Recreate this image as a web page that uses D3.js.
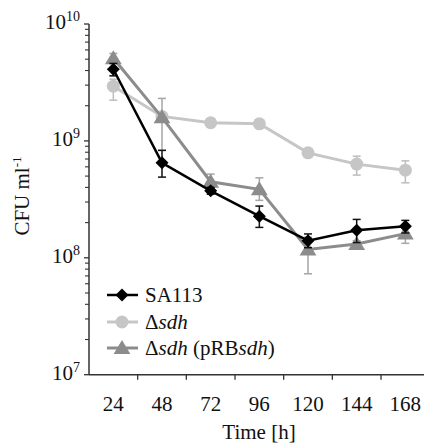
<!DOCTYPE html>
<html>
<head>
<meta charset="utf-8">
<script src="https://cdn.jsdelivr.net/npm/d3@7"></script>
<style>
  body { margin: 0; background: #fff; }
  text { font-family: "Liberation Serif", "Times New Roman", serif; fill: #111; }
</style>
</head>
<body>
<svg id="chart" width="424" height="445"></svg>
<script>
// time points (h)
const times = ['24', '48', '72', '96', '120', '144', '168'];

// SA113 (wild type)
const sa113 = [4.1e9, 6.5e8, 3.74e8, 2.27e8, 1.40e8, 1.72e8, 1.86e8];
const sa113Hi = [4.6e9, 8.3e8, 4.0e8, 2.77e8, 1.6e8, 2.13e8, 2.09e8];
const sa113Lo = [3.6e9, 4.9e8, 3.5e8, 1.82e8, 1.22e8, 1.35e8, 1.63e8];

// delta sdh
const sdh = [2.94e9, 1.62e9, 1.43e9, 1.40e9, 7.9e8, 6.33e8, 5.62e8];
const sdhHi = [3.37e9, 1.75e9, 1.5e9, 1.46e9, 8.2e8, 7.4e8, 6.75e8];
const sdhLo = [2.23e9, 1.5e9, 1.37e9, 1.34e9, 7.6e8, 5.1e8, 4.38e8];

// delta sdh (pRBsdh)
const comp = [5.1e9, 1.59e9, 4.47e8, 3.85e8, 1.18e8, 1.31e8, 1.61e8];
const compHi = [5.6e9, 2.31e9, 5.2e8, 4.83e8, 1.5e8, 1.4e8, 1.9e8];
const compLo = [4.6e9, 8.3e8, 3.9e8, 3.1e8, 7.3e7, 1.22e8, 1.33e8];

const yTicks = [1e7, 1e8, 1e9, 1e10];

const svg = d3.select('#chart');
const mLeft = 89, mTop = 24, mBottom = 374.7, bandW = 48.67;

const x = d3.scaleBand().domain(times).range([mLeft, mLeft + bandW * times.length]);
const y = d3.scaleLog().domain([1e7, 1e10]).range([mBottom, mTop]);
const cx = d => x(d) + x.bandwidth() / 2;

// symbols
const diamond = r => `M0,${-r}L${r},0L0,${r}L${-r},0Z`;
const triangle = r => `M0,${-r}L${r * 1.05},${r * 0.75}L${-r * 1.05},${r * 0.75}Z`;

const series = [
  { name: 'sdh', values: sdh, hi: sdhHi, lo: sdhLo, color: '#c6c6c6', err: '#bdbdbd', lw: 3,
    mark: g => g.append('circle').attr('r', 6.5) },
  { name: 'comp', values: comp, hi: compHi, lo: compLo, color: '#8c8c8c', err: '#a6a6a6', lw: 3,
    mark: g => g.append('path').attr('d', triangle(8)) },
  { name: 'sa113', values: sa113, hi: sa113Hi, lo: sa113Lo, color: '#000', err: '#111', lw: 2.5,
    mark: g => g.append('path').attr('d', diamond(6.5)) }
];

// axes lines
const axisColor = '#333';
svg.append('line').attr('x1', mLeft).attr('x2', 424).attr('y1', mBottom).attr('y2', mBottom)
  .attr('stroke', axisColor).attr('stroke-width', 1.5);
svg.append('line').attr('x1', mLeft).attr('x2', mLeft).attr('y1', mTop).attr('y2', mBottom)
  .attr('stroke', axisColor).attr('stroke-width', 1.5);

// x ticks at band boundaries
times.forEach((t, i) => {
  if (i > 0) {
    svg.append('line').attr('x1', x(t)).attr('x2', x(t)).attr('y1', mBottom).attr('y2', mBottom + 5)
      .attr('stroke', axisColor).attr('stroke-width', 1.3);
  }
  svg.append('text').attr('x', cx(t)).attr('y', 411).attr('text-anchor', 'middle')
    .attr('font-size', 21).text(t);
});

// y ticks, major + minor
yTicks.forEach((v, i) => {
  svg.append('line').attr('x1', mLeft - 5).attr('x2', mLeft).attr('y1', y(v)).attr('y2', y(v))
    .attr('stroke', axisColor).attr('stroke-width', 1.3);
  const exp = Math.round(Math.log10(v));
  const t = svg.append('text').attr('x', 80).attr('y', y(v) + 5).attr('text-anchor', 'end')
    .attr('font-size', 21);
  t.append('tspan').text('10');
  t.append('tspan').attr('font-size', 14).attr('dy', -8).text(exp);
  if (i < yTicks.length - 1) {
    for (let k = 2; k <= 9; k++) {
      svg.append('line').attr('x1', mLeft - 4).attr('x2', mLeft).attr('y1', y(v * k)).attr('y2', y(v * k))
        .attr('stroke', axisColor).attr('stroke-width', 1.1);
    }
  }
});

// axis titles
svg.append('text').attr('x', 259).attr('y', 439).attr('text-anchor', 'middle')
  .attr('font-size', 21).text('Time [h]');
const yt = svg.append('text').attr('transform', 'translate(29,196) rotate(-90)')
  .attr('text-anchor', 'middle').attr('font-size', 21);
yt.append('tspan').text('CFU ml');
yt.append('tspan').attr('font-size', 13).attr('dy', -8).text('-1');

// series
const line = d3.line().x(d => cx(d.t)).y(d => y(d.v));
series.forEach(s => {
  const pts = times.map((t, i) => ({ t, v: s.values[i], hi: s.hi[i], lo: s.lo[i] }));
  const g = svg.append('g');
  // error bars
  pts.forEach(p => {
    const eb = g.append('g').attr('stroke', s.err).attr('stroke-width', 1.5);
    eb.append('line').attr('x1', cx(p.t)).attr('x2', cx(p.t)).attr('y1', y(p.hi)).attr('y2', y(p.lo));
    [p.hi, p.lo].forEach(e => eb.append('line').attr('x1', cx(p.t) - 4).attr('x2', cx(p.t) + 4)
      .attr('y1', y(e)).attr('y2', y(e)));
  });
  g.append('path').datum(pts).attr('d', line).attr('fill', 'none')
    .attr('stroke', s.color).attr('stroke-width', s.lw);
  pts.forEach(p => {
    const m = g.append('g').attr('transform', `translate(${cx(p.t)},${y(p.v)})`).attr('fill', s.color);
    s.mark(m);
  });
});

// legend
const legend = [
  { s: series[2], label: ['SA113'] , y: 295 },
  { s: series[0], label: ['Δ', 'sdh'], y: 322 },
  { s: series[1], label: ['Δ', 'sdh', ' (pRB', 'sdh', ')'], y: 348 }
];
legend.forEach(l => {
  svg.append('line').attr('x1', 107).attr('x2', 138).attr('y1', l.y).attr('y2', l.y)
    .attr('stroke', l.s.color).attr('stroke-width', l.s.lw);
  const m = svg.append('g').attr('transform', `translate(122,${l.y})`).attr('fill', l.s.color);
  l.s.mark(m);
  const t = svg.append('text').attr('x', 145).attr('y', l.y + 7).attr('font-size', 21);
  l.label.forEach(part => {
    const italic = part === 'sdh';
    t.append('tspan').attr('font-style', italic ? 'italic' : 'normal').text(part);
  });
});
</script>
</body>
</html>
